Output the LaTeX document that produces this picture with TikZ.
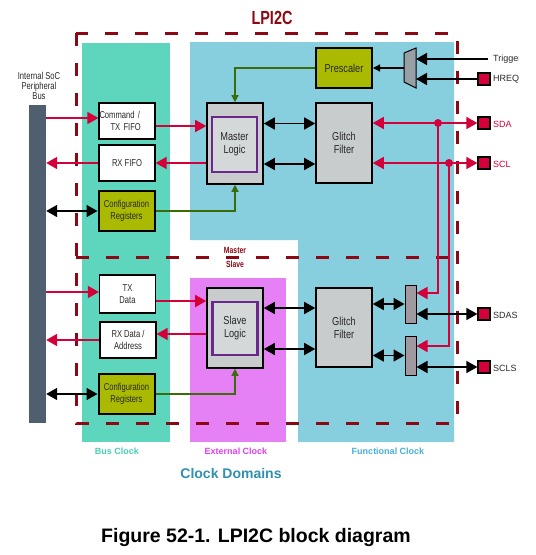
\documentclass[tikz,border=0pt]{standalone}
\usepackage{fontspec}
\setmainfont{Liberation Sans}
\newfontfamily\nf[FakeStretch=0.76]{Liberation Sans}
\newfontfamily\nfb[FakeStretch=0.8]{Liberation Sans}
\usetikzlibrary{arrows.meta,calc}
\definecolor{busclk}{RGB}{94,214,190}
\definecolor{funclk}{RGB}{135,206,222}
\definecolor{extclk}{RGB}{230,128,245}
\definecolor{dred}{RGB}{140,8,20}
\definecolor{myred}{RGB}{212,0,58}
\definecolor{olive}{RGB}{170,186,0}
\definecolor{gbox}{RGB}{200,204,204}
\definecolor{gin}{RGB}{212,216,216}
\definecolor{purp}{RGB}{106,40,140}
\definecolor{busbar}{RGB}{80,95,112}
\definecolor{mygreen}{RGB}{58,108,10}
\definecolor{smux}{RGB}{160,154,160}
\definecolor{mmux}{RGB}{150,160,165}
\definecolor{txtg}{RGB}{40,40,40}
\definecolor{busclktxt}{RGB}{70,208,180}
\definecolor{extclktxt}{RGB}{226,60,240}
\definecolor{funclktxt}{RGB}{70,176,216}
\definecolor{domtxt}{RGB}{48,144,176}
\begin{document}
\begin{tikzpicture}[x=1pt,y=-1pt,
  every node/.style={inner sep=0pt},
  wbox/.style={draw=black, line width=1.2pt, fill=white, minimum width=56pt, align=center, font=\nf\fontsize{10}{12}\selectfont, text=txtg},
  obox/.style={draw=black, line width=2pt, fill=olive, minimum width=56pt, minimum height=40pt, align=center, font=\nf\fontsize{10}{12}\selectfont, text=txtg},
  gfbox/.style={draw=black, line width=1.6pt, fill=gbox, minimum width=56pt, minimum height=80pt, align=center, font=\nfb\fontsize{11.5}{13}\selectfont, text=txtg},
  logo/.style={draw=black, line width=1.6pt, fill=gbox, minimum width=56pt, minimum height=81pt},
  logi/.style={draw=purp, line width=2.6pt, fill=gin, minimum width=45pt, minimum height=55pt, align=center, font=\nfb\fontsize{11.5}{13}\selectfont, text=txtg},
  pad/.style={draw=black, line width=1.2pt, fill=myred, minimum size=12pt},
  smuxbox/.style={draw=black, line width=1pt, fill=smux, minimum width=11pt, minimum height=38pt},
  dashbox/.style={draw=dred, line width=3pt, dash pattern=on 13pt off 17pt},
  rl/.style={draw=myred, line width=1.6pt},
  rarr/.style={rl, -{Triangle[length=11pt,width=12pt]}},
  rdbl/.style={rl, {Triangle[length=11pt,width=12pt]}-{Triangle[length=11pt,width=12pt]}},
  kdbl/.style={draw=black, line width=1.6pt, {Triangle[length=11pt,width=12pt]}-{Triangle[length=11pt,width=12pt]}},
  karr/.style={draw=black, line width=1.6pt, -{Triangle[length=11pt,width=12pt]}},
  garr/.style={draw=mygreen, line width=1.4pt, -{Triangle[length=7pt,width=7pt]}},
  lbl/.style={font=\fontsize{9}{10}\selectfont, anchor=west}]
\useasboundingbox (0,0) rectangle (536,555);
% clock domain backgrounds
\fill[busclk] (82,43) rectangle (170,442);
\fill[funclk] (190,42) -- (454,42) -- (454,442) -- (298,442) -- (298,240) -- (190,240) -- cycle;
\fill[extclk] (190,278) rectangle (286,442);
% title
\node[font=\nf\bfseries\fontsize{19}{20}\selectfont, text=dred] (title) at (272,18) {LPI2C};
% bus bar
\node[fill=busbar, minimum width=17pt, minimum height=318pt] (bus) at (37.5,264) {};
\node[font=\nf\fontsize{10}{9.8}\selectfont, align=center, text=txtg] (bustxt) at (39,86) {Internal SoC\\Peripheral\\Bus};
% master side boxes
\node[wbox, minimum height=36pt, text width=55pt, align=left] (cmd) at (127,121) {Command /\\\hspace*{11pt}TX FIFO};
\node[wbox, minimum height=36pt] (rxf) at (127,163) {RX FIFO};
\node[obox] (cfgm) at (126.5,211) {Configuration\\Registers};
\node[logo] (ml) at (235,143.5) {};
\node[logi] (mli) at (234.5,144.5) {Master\\Logic};
\node[obox, font=\nfb\fontsize{11.5}{13}\selectfont] (presc) at (344,68) {Prescaler};
\node[gfbox] (gfm) at (344,143) {Glitch\\Filter};
% master mux
\fill[mmux, draw=black, line width=1pt] (404,53) -- (416,48) -- (416,88) -- (404,82) -- cycle;
\coordinate (muxmw) at (404,68);
\coordinate (muxme) at (416,68);
% pads
\node[pad] (hreq) at (484,79) {};
\node[pad] (sda) at (484,123) {};
\node[pad] (scl) at (484,163) {};
\node[pad] (sdas) at (484,314) {};
\node[pad] (scls) at (484,367) {};
\coordinate (trig) at (488,59);
\begin{scope}
\clip (0,0) rectangle (518.5,555);
\node[lbl, text=txtg] (trigtxt) at (493,59) {Trigger};
\node[lbl, text=txtg] (hreqtxt) at (493,79) {HREQ};
\node[lbl, text=myred] (sdatxt) at (493,124) {SDA};
\node[lbl, text=myred] (scltxt) at (493,164) {SCL};
\node[lbl, text=txtg] (sdastxt) at (493,315) {SDAS};
\node[lbl, text=txtg] (sclstxt) at (493,368) {SCLS};
\end{scope}
% slave side boxes
\node[wbox, minimum height=38pt] (txd) at (127.5,294) {TX\\Data};
\node[wbox, minimum height=36pt] (rxd) at (128,340) {RX Data /\\Address};
\node[obox] (cfgs) at (126.5,394) {Configuration\\Registers};
\node[logo, minimum height=80pt] (sl) at (235,328) {};
\node[logi, minimum height=53pt] (sli) at (235,328.5) {Slave\\Logic};
\node[gfbox, minimum height=79pt] (gfs) at (344,327.5) {Glitch\\Filter};
\node[smuxbox] (muxa) at (410.5,304) {};
\node[smuxbox, minimum height=39pt] (muxb) at (410.5,355.5) {};
% dashed LPI2C boundary
\draw[dashbox] (76,33) rectangle (457,423);
\draw[dashbox] (76,257) -- (457,257);
\node[font=\nf\bfseries\fontsize{9}{10}\selectfont, text=dred] (mtxt) at (235,250) {Master};
\node[font=\nf\bfseries\fontsize{9}{10}\selectfont, text=dred] (stxt) at (235,264.5) {Slave};
% master connectors
\draw[rarr] ([yshift=3pt]cmd.west -| bus.east) -- ([yshift=3pt]cmd.west);
\draw[rarr] ([yshift=-5pt]cmd.east) -- ([yshift=-5pt]cmd.east -| ml.west);
\draw[rarr] (rxf.east -| ml.west) -- (rxf.east);
\draw[rarr] (rxf.west) -- (rxf.west -| bus.east);
\draw[kdbl] (cfgm.west -| bus.east) -- (cfgm.west);
\draw[garr] (cfgm.east) -| (ml.south);
\draw[garr] (presc.west) -| (ml.north);
\draw[draw=black, line width=1.2pt, -{Triangle[length=7pt,width=7pt]}] (muxmw) -- (presc.east);
\draw[kdbl] ([yshift=20pt]ml.east) -- ([yshift=20pt]ml.east -| gfm.west);
\draw[kdbl] ([yshift=-20.5pt]ml.east) -- ([yshift=-20.5pt]ml.east -| gfm.west);
\draw[karr] (trig) -- (trig -| muxme);
\draw[karr] (hreq.west) -- (hreq.west -| muxme);
\draw[rdbl] (sda.west -| gfm.east) -- (sda.west);
\draw[rdbl] (scl.west -| gfm.east) -- (scl.west);
\coordinate (da) at (438,123);
\coordinate (db) at (449,163);
\draw[rarr] (da) |- ([yshift=11pt]muxa.east);
\draw[rarr] (db) |- ([yshift=9.5pt]muxb.east);
\fill[myred] (da) circle (4pt);
\fill[myred] (db) circle (4pt);
% slave connectors
\draw[rarr] ([yshift=2pt]txd.west -| bus.east) -- ([yshift=2pt]txd.west);
\draw[rarr] ([yshift=-7pt]txd.east) -- ([yshift=-7pt]txd.east -| sl.west);
\draw[rarr] ([yshift=6pt]rxd.east -| sl.west) -- ([yshift=6pt]rxd.east);
\draw[rarr] (rxd.west) -- (rxd.west -| bus.east);
\draw[kdbl] (cfgs.west -| bus.east) -- (cfgs.west);
\draw[garr] (cfgs.east) -| (sl.south);
\draw[kdbl] ([yshift=20pt]sl.east) -- ([yshift=20pt]sl.east -| gfs.west);
\draw[kdbl] ([yshift=-21pt]sl.east) -- ([yshift=-21pt]sl.east -| gfs.west);
\draw[kdbl] (muxa.west -| gfs.east) -- (muxa.west);
\draw[kdbl] (muxb.west -| gfs.east) -- (muxb.west);
\draw[kdbl] (sdas.west -| muxa.east) -- (sdas.west);
\draw[kdbl] (scls.west -| muxb.east) -- (scls.west);
% clock domain labels
\node[font=\bfseries\fontsize{9}{10}\selectfont, text=busclktxt] (bcl) at (117,451) {Bus Clock};
\node[font=\bfseries\fontsize{9}{10}\selectfont, text=extclktxt] (ecl) at (236,451) {External Clock};
\node[font=\bfseries\fontsize{9}{10}\selectfont, text=funclktxt] (fcl) at (388,451) {Functional Clock};
\node[font=\bfseries\fontsize{14}{16}\selectfont, text=domtxt] (dom) at (231,473) {Clock Domains};
\node[font=\bfseries\fontsize{19.5}{22}\selectfont] (cap) at (256,537) {Figure 52-1. LPI2C block diagram};
\end{tikzpicture}
\end{document}
